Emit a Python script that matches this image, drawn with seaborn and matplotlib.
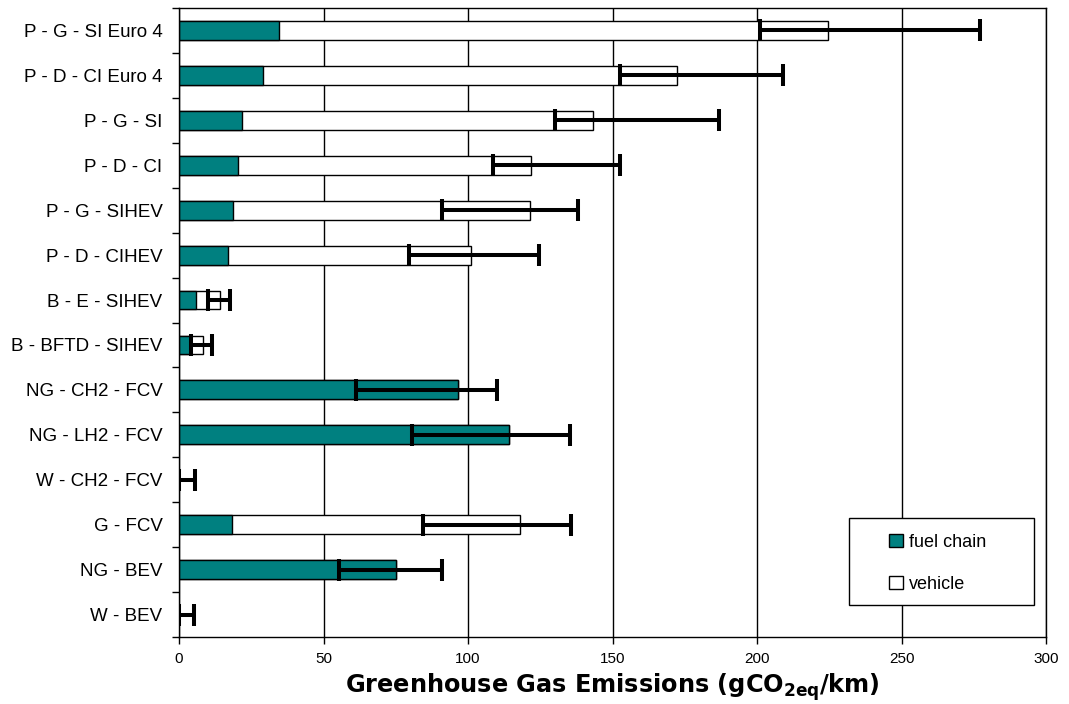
import numpy as np
import pandas as pd
import matplotlib.pyplot as plt
import seaborn as sns
from matplotlib.patches import Patch, Rectangle

sns.set_theme(style="white")
plt.rcParams['font.family'] = ['Liberation Sans', 'DejaVu Sans']
plt.rcParams['mathtext.fontset'] = 'custom'
plt.rcParams['mathtext.rm'] = 'DejaVu Sans'
plt.rcParams['mathtext.bf'] = 'DejaVu Sans:bold'
for k in ['text.color', 'axes.labelcolor', 'xtick.color', 'ytick.color']:
    plt.rcParams[k] = 'black'

# Data
pathways = ['P - G - SI Euro 4', 'P - D - CI Euro 4', 'P - G - SI', 'P - D - CI',
            'P - G - SIHEV', 'P - D - CIHEV', 'B - E - SIHEV', 'B - BFTD - SIHEV',
            'NG - CH2 - FCV', 'NG - LH2 - FCV', 'W - CH2 - FCV', 'G - FCV',
            'NG - BEV', 'W - BEV']
fuel_chain = [34.5, 29.0, 21.8, 20.4, 18.7, 17.0, 5.8, 4.0, 96.5, 114.2, 0.0, 18.3, 75.0, 0.0]
vehicle = [190.0, 143.3, 121.5, 101.4, 102.8, 84.0, 8.4, 4.4, 0.0, 0.0, 0.0, 99.7, 0.0, 0.0]
err_low = [201.0, 152.5, 130.0, 108.5, 91.0, 79.6, 10.0, 4.0, 61.2, 80.6, 0.0, 84.4, 55.4, 0.0]
err_high = [277.0, 209.0, 187.0, 152.5, 138.0, 124.6, 17.6, 11.3, 110.0, 135.3, 5.5, 135.6, 91.0, 5.0]

df = pd.DataFrame({'pathway': pathways, 'fuel': fuel_chain, 'vehicle': vehicle,
                   'low': err_low, 'high': err_high})
df['total'] = df['fuel'] + df['vehicle']

teal = '#008080'

fig = plt.figure(figsize=(10.69, 7.04), dpi=100)
ax = fig.add_axes([0.1675, 0.0952, 0.811, 0.8934])

sns.barplot(data=df, y='pathway', x='total', orient='h', color='white', saturation=1,
            edgecolor='black', linewidth=1, width=0.42, ax=ax)
sns.barplot(data=df, y='pathway', x='fuel', orient='h', color=teal, saturation=1,
            edgecolor='black', linewidth=1, width=0.42, ax=ax)

# error ranges (low..high), drawn around the midpoint of each range
mid = (df['low'] + df['high']) / 2
half = (df['high'] - df['low']) / 2
ax.errorbar(mid, np.arange(len(df)), xerr=half, fmt='none', ecolor='black',
            elinewidth=2.9, capsize=8, capthick=2.9, zorder=5)

ax.set_xlim(0, 300)
ax.set_ylim(len(df) - 0.5, -0.5)
ax.set_xticks(np.arange(0, 301, 50))
ax.xaxis.grid(True, color='black', linewidth=1)
ax.set_axisbelow(True)
ax.tick_params(axis='x', direction='out', length=5, width=1, color='black',
               labelsize=11, pad=6, bottom=True)
ax.tick_params(axis='y', which='major', length=0, labelsize=13.5, pad=12)
ax.set_yticks(np.arange(-0.5, len(df), 1), minor=True)
ax.tick_params(axis='y', which='minor', direction='out', length=5, width=1,
               color='black', left=True)
for s in ax.spines.values():
    s.set_color('black')
    s.set_linewidth(1)

ax.set_ylabel('')
ax.set_xlabel(r'Greenhouse Gas Emissions (gCO$_{\mathbf{2eq}}$/km)',
              fontsize=17.3, fontweight='bold', family='DejaVu Sans', labelpad=3.5)

# legend box
ax.add_patch(Rectangle((0.7728, 0.0509), 0.2134, 0.1383, transform=ax.transAxes,
                       facecolor='white', edgecolor='black', linewidth=1, zorder=6))
handles = [Patch(facecolor=teal, edgecolor='black', label='fuel chain'),
           Patch(facecolor='white', edgecolor='black', label='vehicle')]
leg = ax.legend(handles=handles, loc='center left', bbox_to_anchor=(0.819, 0.117),
                fontsize=13, frameon=False, handlelength=0.75, handleheight=0.75,
                handletextpad=0.35, labelspacing=1.4, borderpad=0, borderaxespad=0)
leg.set_zorder(7)

fig.savefig('out.png', dpi=100)
